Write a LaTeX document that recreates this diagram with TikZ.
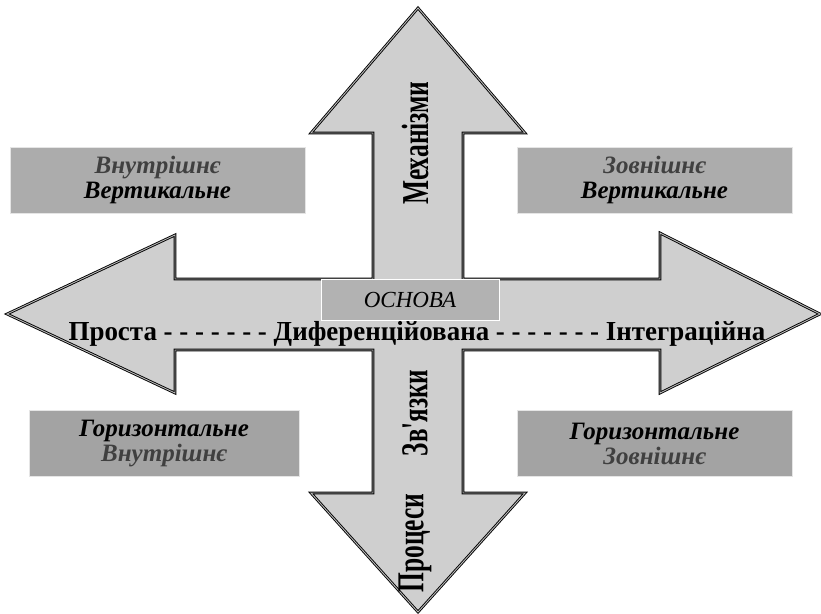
\documentclass[tikz,border=0pt]{standalone}
\usepackage{fontspec}
\setmainfont{Liberation Serif}
\newfontfamily\plainserif{Liberation Serif}
\begin{document}
\begin{tikzpicture}[x=1pt,y=-1pt,
  crossline/.style={fill=gray!38, draw=black, double=gray!55, double distance=.9pt, line width=.9pt, line join=miter},
  sidebox/.style={draw=gray!20, line width=.8pt, minimum width=275pt, minimum height=66pt, inner sep=0pt, align=center,
    font=\bfseries\itshape\fontsize{25}{25}\selectfont},
  axistext/.style={xscale=.98, font=\bfseries\fontsize{27.5}{30}\selectfont},
  shafttext/.style={rotate=90, xscale=.67, font=\bfseries\fontsize{38}{40}\selectfont}]
\useasboundingbox (0,0) rectangle (821,613);
% the cross
\filldraw[crossline] (418,8)--(525,133)--(463,133)--(463,279)--(660,279)--(660,233)--(820,314)--(660,393)--(660,350)
  --(463,350)--(463,493)--(525,493)--(418,612)--(311,493)--(373,493)--(373,350)--(175,350)--(175,393)--(7,314)
  --(175,235)--(175,279)--(373,279)--(373,133)--(311,133)--cycle;
% corner boxes
\node[sidebox, fill=gray!65, minimum width=295pt] (innvert) at (157.5,180) {{\color{black!75}Внутрішнє}\\Вертикальне};
\node[sidebox, fill=gray!65] (outvert) at (654.5,180) {{\color{black!75}Зовнішнє}\\Вертикальне};
\node[sidebox, fill=gray!72, minimum width=270pt] (horinn) at (164,443.5) {Горизонтальне\\{\color{black!75}Внутрішнє}};
\node[sidebox, fill=gray!72] (horout) at (654.5,443.5) {Горизонтальне\\{\color{black!75}Зовнішнє}};
% base
\node[fill=gray!60, draw=white, line width=1pt, minimum width=178pt, minimum height=41pt] (osnova) at (410,299.5)
  {\itshape\fontsize{23}{24}\selectfont ОСНОВА};
\node[axistext, anchor=base] (axis) at (417,340) {Проста - - - - - - - Диференційована - - - - - - - Інтеграційна};
% shaft labels
\node[shafttext] (mech) at (415,143) {Механізми};
\node[shafttext, xscale=.985] (links) at (415,413) {Зв{\plainserif\bfseries '}язки};
\node[shafttext] (proc) at (415,543) {Процеси};
\end{tikzpicture}
\end{document}
